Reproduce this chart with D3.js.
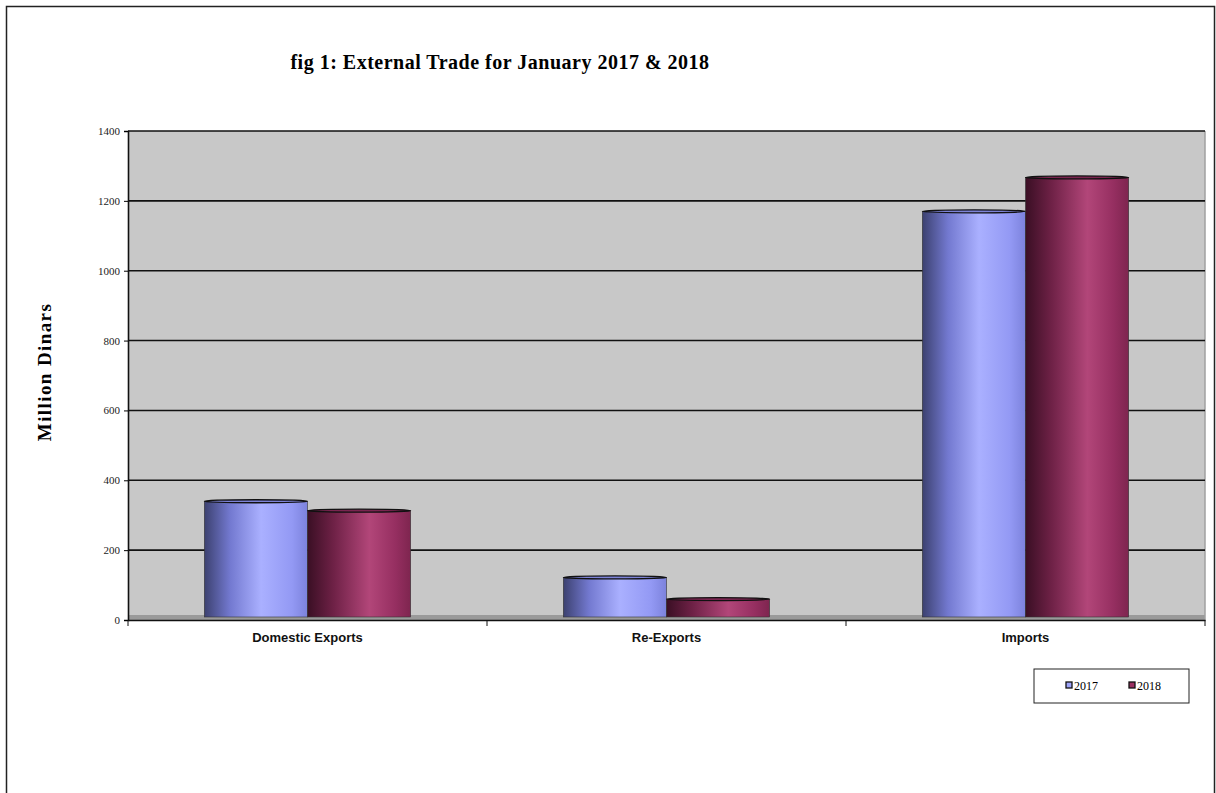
<!DOCTYPE html>
<html>
<head>
<meta charset="utf-8">
<script src="https://cdn.jsdelivr.net/npm/d3@7"></script>
<style>
  body { margin: 0; background: #fff; }
</style>
</head>
<body>
<div class="content"></div>
<script>
const SVGWIDTH = 1216
const SVGHEIGHT = 793

// data
const categories = ["Domestic Exports", "Re-Exports", "Imports"];
const years = ["2017", "2018"];
const values2017 = [340, 122, 1170];
const values2018 = [313, 60, 1267];
const yTicks = [0, 200, 400, 600, 800, 1000, 1200, 1400];

const plot = {left: 128, right: 1205, top: 131, bottom: 620};

const svg = d3.select(".content").append("svg")
    .attr("width", SVGWIDTH).attr("height", SVGHEIGHT);

// gradients for the cylinder look
const defs = svg.append("defs");
const grads = {
    "2017": [["0%", "#3c4170"], ["25%", "#7379d0"], ["55%", "#aab0ff"], ["85%", "#9399f4"], ["100%", "#7c82dc"]],
    "2018": [["0%", "#3a0f24"], ["25%", "#6e2146"], ["60%", "#b24679"], ["85%", "#962f61"], ["100%", "#7e254f"]]
};
years.forEach(y => {
    const g = defs.append("linearGradient").attr("id", "grad" + y)
        .attr("x1", "0%").attr("x2", "100%").attr("y1", "0%").attr("y2", "0%");
    grads[y].forEach(s => g.append("stop").attr("offset", s[0]).attr("stop-color", s[1]));
});
const topColor = {"2017": "#7d83d8", "2018": "#7a2550"};

// outer frame
svg.append("rect")
    .attr("x", 6.5).attr("y", 6.5)
    .attr("width", 1208).attr("height", 820)
    .attr("fill", "none").attr("stroke", "#222").attr("stroke-width", 1.5);

// scales
const x0 = d3.scaleBand().domain(categories).range([plot.left, plot.right]).padding(0);
const x1 = d3.scaleBand().domain(years).range([0, x0.bandwidth()]).paddingInner(0).paddingOuter(0.74);
const yscale = d3.scaleLinear().domain([0, 1400]).range([plot.bottom, plot.top]);

// plot background
svg.append("rect")
    .attr("x", plot.left).attr("y", plot.top)
    .attr("width", plot.right - plot.left).attr("height", plot.bottom - plot.top)
    .attr("fill", "#c8c8c8");
// floor
svg.append("rect")
    .attr("x", plot.left).attr("y", plot.bottom - 5)
    .attr("width", plot.right - plot.left).attr("height", 5)
    .attr("fill", "#9a9a9a");
svg.append("line")
    .attr("x1", plot.right).attr("x2", plot.right)
    .attr("y1", plot.top).attr("y2", plot.bottom)
    .attr("stroke", "#a0a0a0").attr("stroke-width", 1.5);

// gridlines
svg.append("g").selectAll("line")
    .data(yTicks.filter(d => d > 0))
    .join("line")
    .attr("x1", plot.left).attr("x2", plot.right)
    .attr("y1", d => yscale(d)).attr("y2", d => yscale(d))
    .attr("stroke", "#111").attr("stroke-width", 1.6);

// bars
const barData = [];
categories.forEach((c, i) => {
    barData.push({cat: c, year: "2017", value: values2017[i]});
    barData.push({cat: c, year: "2018", value: values2018[i]});
});
const bars = svg.append("g").selectAll("g")
    .data(barData)
    .join("g");
bars.append("rect")
    .attr("x", d => x0(d.cat) + x1(d.year))
    .attr("y", d => yscale(d.value))
    .attr("width", x1.bandwidth())
    .attr("height", d => yscale(0) - 3 - yscale(d.value))
    .attr("fill", d => "url(#grad" + d.year + ")")
    .attr("stroke", "#333").attr("stroke-width", 0.6);
bars.append("ellipse")
    .attr("cx", d => x0(d.cat) + x1(d.year) + x1.bandwidth() / 2)
    .attr("cy", d => yscale(d.value))
    .attr("rx", x1.bandwidth() / 2)
    .attr("ry", 1.5)
    .attr("fill", d => topColor[d.year])
    .attr("stroke", "#111").attr("stroke-width", 1.3);

// y axis
const yaxis = d3.axisLeft(yscale).tickValues(yTicks).tickFormat(d3.format("d")).tickSize(4).tickPadding(4);
const yg = svg.append("g").attr("transform", `translate(${plot.left},0)`).call(yaxis);
yg.select(".domain").attr("stroke", "#111").attr("stroke-width", 1.6);
yg.selectAll("text").style("font-family", "Liberation Serif, serif").style("font-size", "11px").attr("fill", "#222");

// x axis
const xaxis = d3.axisBottom(x0).tickSize(0).tickPadding(13);
const xg = svg.append("g").attr("transform", `translate(0,${plot.bottom})`).call(xaxis);
xg.select(".domain").attr("stroke", "#111").attr("stroke-width", 1.6);
xg.selectAll("text").style("font-family", "Liberation Sans, Arial, sans-serif")
    .style("font-size", "13px").style("font-weight", "bold").attr("fill", "#111");
// category boundary ticks
svg.append("g").selectAll("line")
    .data(categories)
    .join("line")
    .attr("x1", d => x0(d)).attr("x2", d => x0(d))
    .attr("y1", plot.bottom).attr("y2", plot.bottom + 6)
    .attr("stroke", "#111");
svg.append("line")
    .attr("x1", plot.right).attr("x2", plot.right)
    .attr("y1", plot.bottom).attr("y2", plot.bottom + 6)
    .attr("stroke", "#111");

// title
svg.append("text")
    .attr("x", 500).attr("y", 69)
    .attr("text-anchor", "middle")
    .style("font-family", "Liberation Serif, serif")
    .style("font-size", "20px").style("font-weight", "bold")
    .style("letter-spacing", "0.5px")
    .text("fig 1: External Trade for January 2017 & 2018");

// y label
svg.append("text")
    .attr("transform", "translate(51,372) rotate(-90)")
    .attr("text-anchor", "middle")
    .style("font-family", "Liberation Serif, serif")
    .style("font-size", "19px").style("font-weight", "bold")
    .style("letter-spacing", "1.4px")
    .text("Million Dinars");

// legend
const legend = svg.append("g").attr("transform", "translate(1034,669)");
legend.append("rect").attr("width", 155).attr("height", 34)
    .attr("fill", "#fff").attr("stroke", "#222").attr("stroke-width", 1);
const legendColor = {"2017": "#9da3f8", "2018": "#9a2f5f"};
const items = legend.selectAll("g.item")
    .data(years)
    .join("g").attr("class", "item")
    .attr("transform", (d, i) => `translate(${32 + i * 63},13)`);
items.append("rect").attr("width", 6).attr("height", 6)
    .attr("fill", d => legendColor[d]).attr("stroke", "#111").attr("stroke-width", 1.3);
items.append("text").attr("x", 8).attr("y", 8)
    .style("font-family", "Liberation Serif, serif").style("font-size", "12px")
    .text(d => d);
</script>
</body>
</html>
